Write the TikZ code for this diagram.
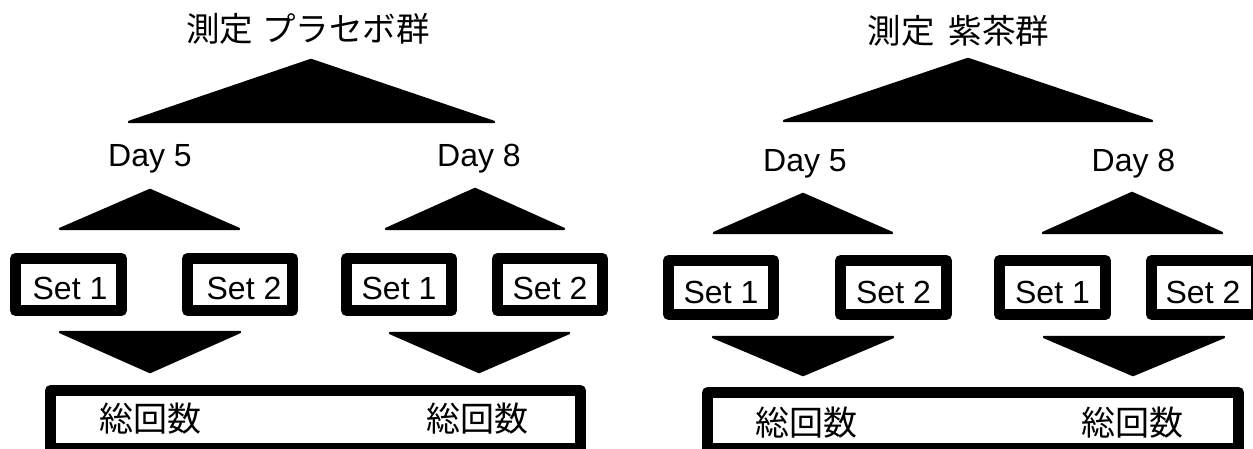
\documentclass[tikz,border=0pt]{standalone}
\usepackage{fontspec}
\setmainfont{Liberation Sans}
\newfontfamily\jpfont{Noto Sans CJK JP}
\begin{document}
\begin{tikzpicture}[x=1pt,y=-1pt,
  tri/.style={fill=black,draw=black,line width=2.5,line join=round},
  setbox/.style={draw=black,line width=11,line join=round,fill=white},
  settext/.style={font=\fontsize{32}{36}\selectfont,inner sep=0,anchor=base},
  daytext/.style={font=\fontsize{32}{36}\selectfont,inner sep=0,anchor=base},
  jptext/.style={font=\jpfont\fontsize{34}{38}\selectfont,inner sep=0,anchor=base},
  titletext/.style={font=\jpfont\fontsize{33.5}{38}\selectfont,inner sep=0,anchor=base}]
\useasboundingbox (0,0) rectangle (1253,449);
\clip (0,0) rectangle (1253,449);
\fill[white] (0,0) rectangle (1253,449);

% ---------- left panel ----------
\node[titletext] (tL) at (308,41.5) {測定\hspace{9pt}プラセボ群};
\draw[tri] (311,60) -- (129,122) -- (494,122) -- cycle;
\node[daytext] (dL5) at (150,167) {Day 5};
\node[daytext] (dL8) at (479,167) {Day 8};
\draw[tri] (150,190) -- (60,229) -- (239,229) -- cycle;
\draw[tri] (475,189) -- (386,229) -- (564,229) -- cycle;
\draw[setbox] (15.5,258.5) rectangle (121.5,310.5);
\draw[setbox] (187.5,258.5) rectangle (292.5,310.5);
\draw[setbox] (346.5,258.5) rectangle (451.5,310.5);
\draw[setbox] (497.5,258.5) rectangle (602.5,310.5);
\node[settext] (sL51) at (70,299) {Set 1};
\node[settext] (sL52) at (244,299) {Set 2};
\node[settext] (sL81) at (399,299) {Set 1};
\node[settext] (sL82) at (550,299) {Set 2};
\draw[tri] (60,332) -- (240,332) -- (150,372) -- cycle;
\draw[tri] (390,333) -- (569,333) -- (479,372) -- cycle;
\draw[setbox] (50.5,390.5) rectangle (580.5,448);
\node[jptext] (tot1) at (150,431) {総回数};
\node[jptext] (tot2) at (477.5,431) {総回数};

% ---------- right panel ----------
\node[titletext] (tR) at (958.5,44) {測定\hspace{14pt}紫茶群};
\draw[tri] (968,59) -- (784,121) -- (1152,121) -- cycle;
\node[daytext] (dR5) at (805,172) {Day 5};
\node[daytext] (dR8) at (1133.5,172) {Day 8};
\draw[tri] (803,194) -- (714,233) -- (892,233) -- cycle;
\draw[tri] (1132,193) -- (1043,233) -- (1222,233) -- cycle;
\draw[setbox] (668.5,260.5) rectangle (773.5,314.5);
\draw[setbox] (840.5,260.5) rectangle (946.5,314.5);
\draw[setbox] (999.5,260.5) rectangle (1105.5,314.5);
\draw[setbox] (1151.5,260.5) rectangle (1256.5,314.5);
\node[settext] (sR51) at (721,303) {Set 1};
\node[settext] (sR52) at (893.5,303) {Set 2};
\node[settext] (sR81) at (1052.5,303) {Set 1};
\node[settext] (sR82) at (1203,303) {Set 2};
\draw[tri] (713,337) -- (893,337) -- (803,375) -- cycle;
\draw[tri] (1044,337) -- (1224,337) -- (1133,375) -- cycle;
\draw[setbox] (707.5,392.5) rectangle (1238.5,448);
\node[jptext] (tot3) at (806,435) {総回数};
\node[jptext] (tot4) at (1132.5,435) {総回数};
\end{tikzpicture}
\end{document}
